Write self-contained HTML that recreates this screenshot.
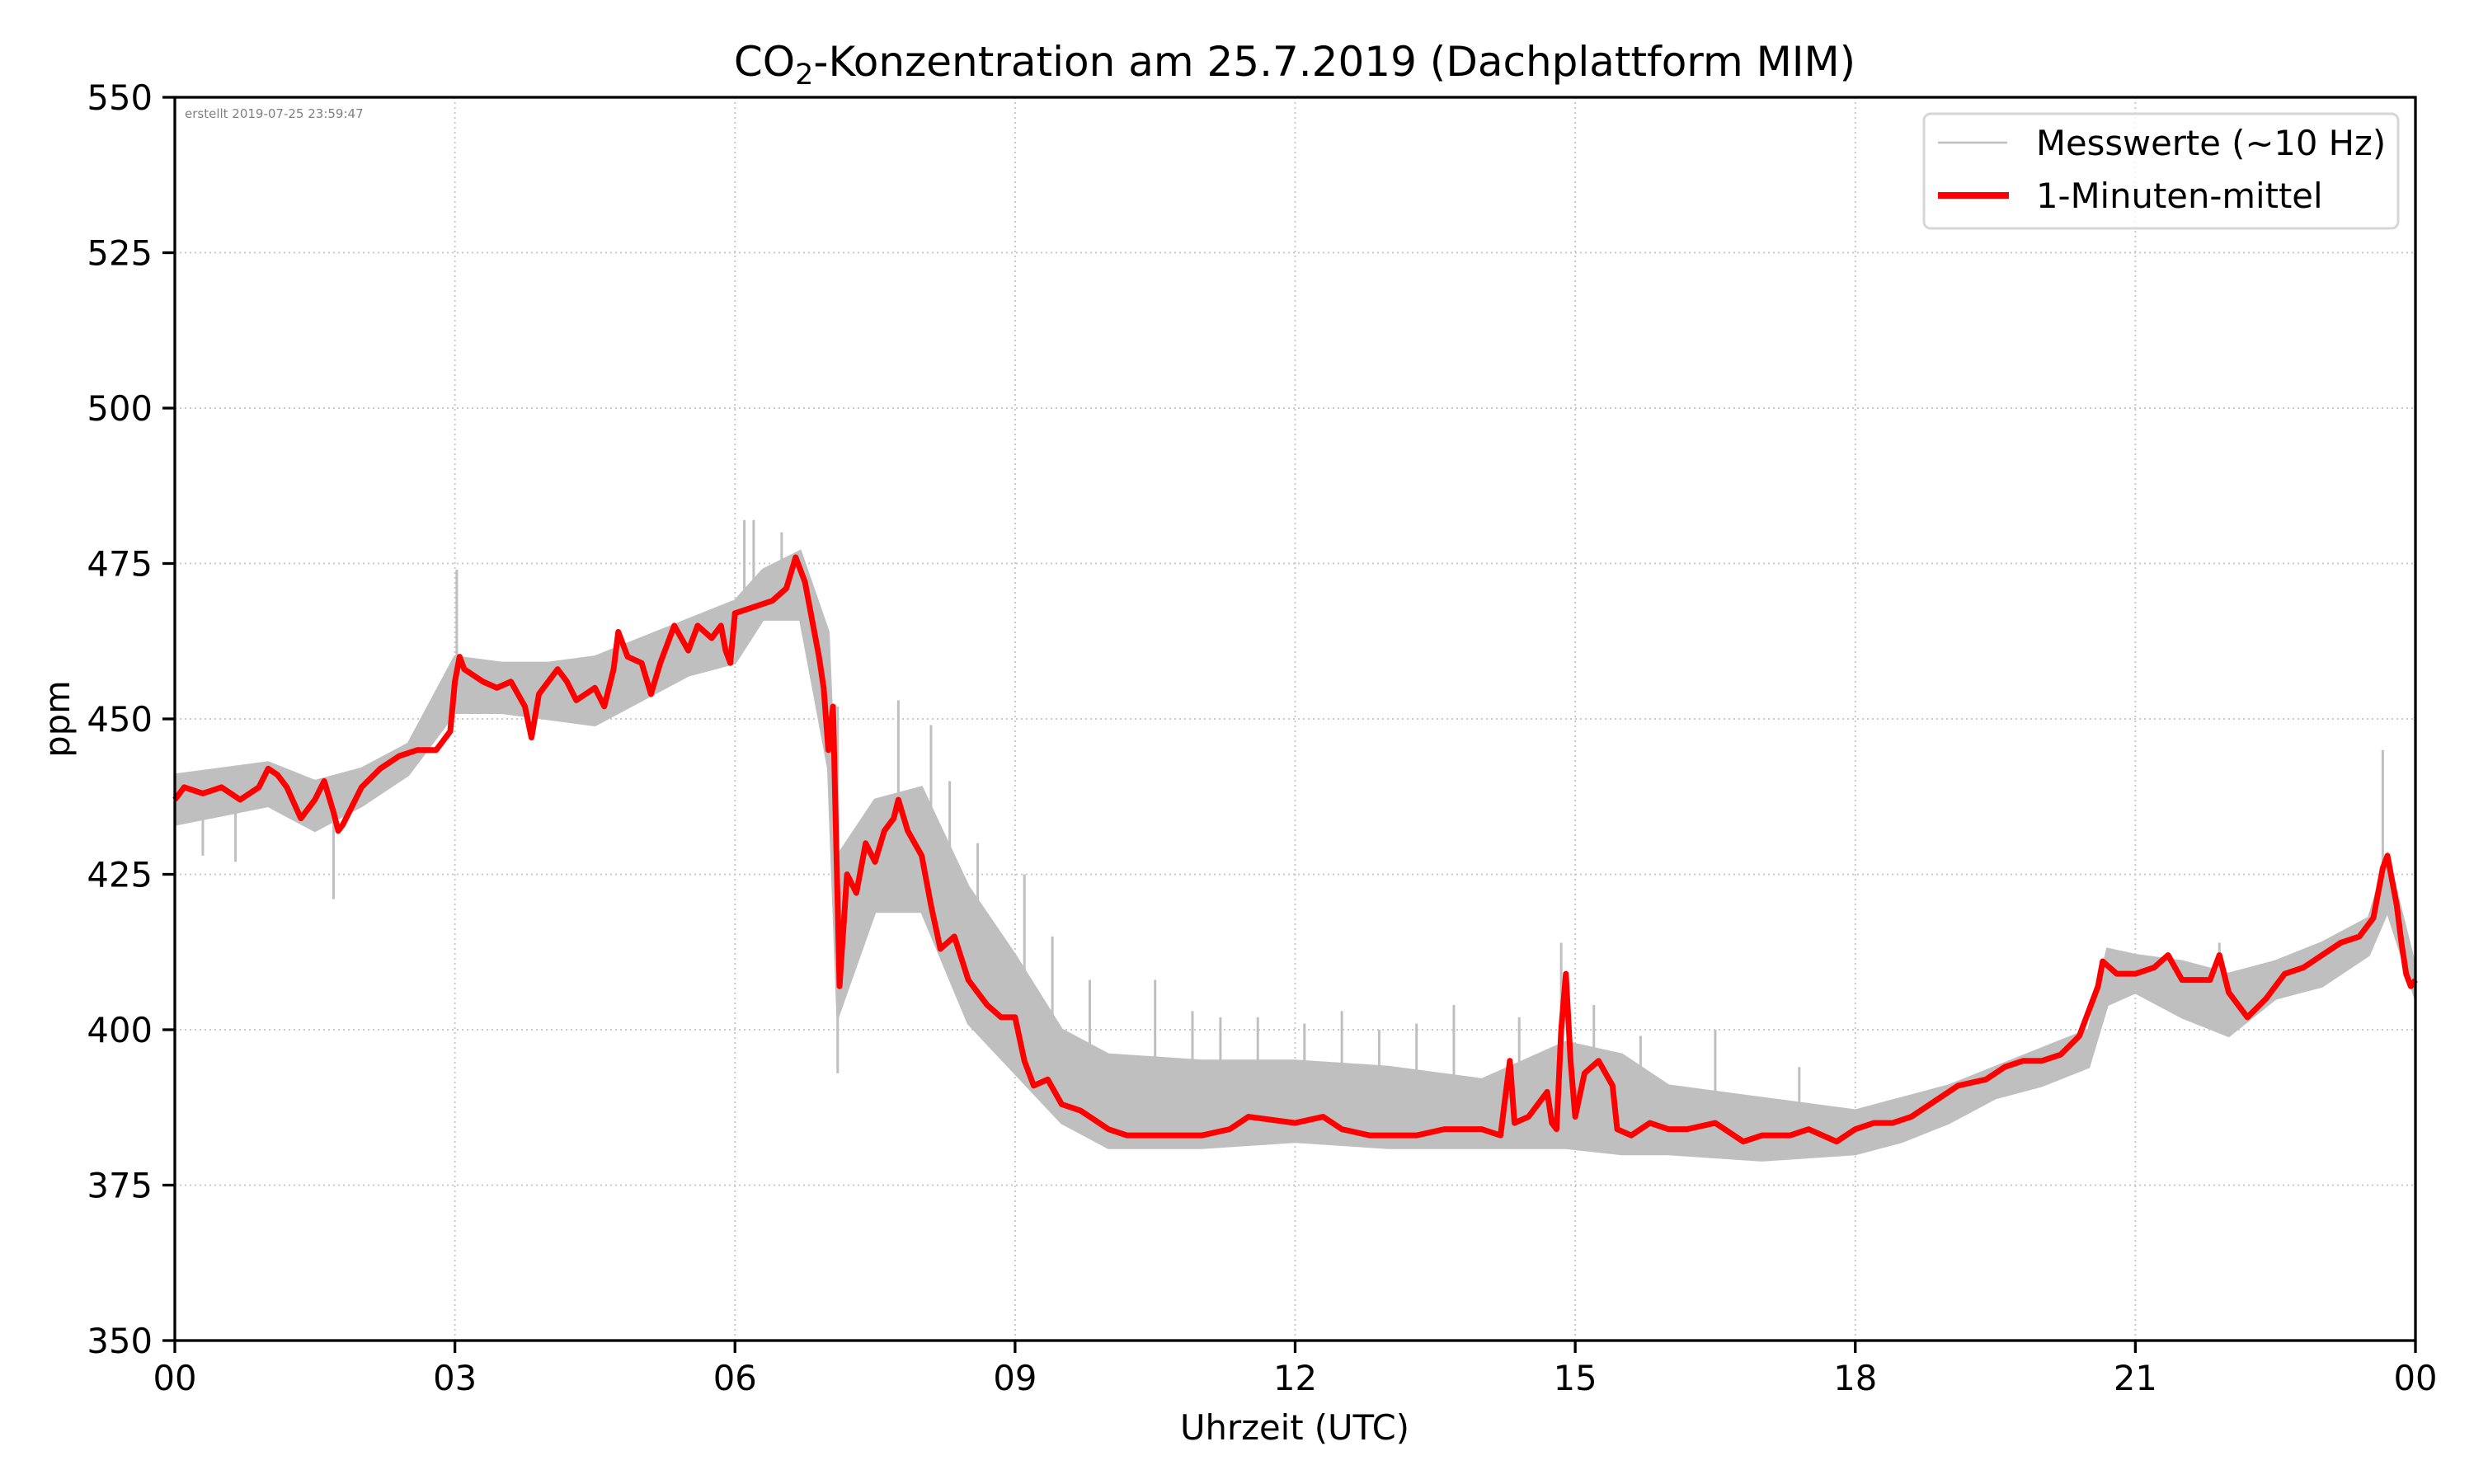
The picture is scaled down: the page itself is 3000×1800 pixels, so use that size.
<!DOCTYPE html>
<html><head><meta charset="utf-8"><style>
html,body{margin:0;padding:0;background:#fff}
svg{display:block;font-family:"DejaVu Sans","Liberation Sans",sans-serif}
</style></head><body>
<svg id="chart" width="3000" height="1800" viewBox="0 0 3000 1800">
<rect width="3000" height="1800" fill="#fff"/>
<text x="1570" y="92" font-size="50" text-anchor="middle">CO<tspan font-size="35" dy="10">2</tspan><tspan dy="-10">-Konzentration am 25.7.2019 (Dachplattform MIM)</tspan></text>
<g id="grid"></g>
<g id="band"></g>
<g id="mean"></g>
<g id="axes"></g>
<text x="224" y="143" font-size="15" fill="#808080">erstellt 2019-07-25 23:59:47</text>
<text x="1570" y="1746" font-size="41.7" text-anchor="middle">Uhrzeit (UTC)</text>
<text x="0" y="0" font-size="41.7" text-anchor="middle" transform="translate(84,872) rotate(-90)">ppm</text>
<g>
<rect x="2333" y="138" width="575" height="139" rx="8" fill="#fff" fill-opacity="0.8" stroke="#d6d6d6" stroke-width="3"/>
<line x1="2350" x2="2434" y1="173" y2="173" stroke="#bfbfbf" stroke-width="2.5"/>
<text x="2469" y="188" font-size="41.7">Messwerte (~10 Hz)</text>
<line x1="2350" x2="2436" y1="237" y2="237" stroke="#ff0000" stroke-width="8"/>
<text x="2469" y="252" font-size="41.7">1-Minuten-mittel</text>
</g>
</svg>
<script>
const meanHours=[0,0.1,0.3,0.5,0.7,0.9,1.0,1.1,1.2,1.35,1.5,1.6,1.7,1.75,1.8,1.9,2.0,2.2,2.4,2.6,2.8,2.95,3.0,3.05,3.1,3.3,3.45,3.6,3.75,3.82,3.9,4.1,4.2,4.3,4.5,4.6,4.7,4.75,4.85,5.0,5.1,5.2,5.35,5.5,5.6,5.75,5.85,5.9,5.95,6.0,6.2,6.4,6.55,6.65,6.75,6.8,6.9,6.95,7.0,7.05,7.1,7.12,7.2,7.3,7.4,7.5,7.6,7.7,7.75,7.85,8.0,8.1,8.2,8.35,8.5,8.7,8.85,9.0,9.1,9.2,9.35,9.5,9.7,9.9,10.0,10.2,10.5,11.0,11.3,11.5,12.0,12.3,12.5,12.8,13.0,13.3,13.6,14.0,14.2,14.3,14.35,14.5,14.7,14.75,14.8,14.85,14.9,14.95,15.0,15.1,15.25,15.4,15.45,15.6,15.8,16.0,16.2,16.5,16.8,17.0,17.3,17.5,17.8,18.0,18.2,18.4,18.6,18.9,19.1,19.4,19.6,19.8,20.0,20.2,20.4,20.6,20.65,20.8,21.0,21.2,21.35,21.5,21.8,21.9,22.0,22.1,22.2,22.4,22.6,22.8,23.0,23.2,23.4,23.55,23.65,23.7,23.8,23.85,23.9,23.95,24.0];
const meanPpm=[437,439,438,439,437,439,442,441,439,434,437,440,435,432,433,436,439,442,444,445,445,448,456,460,458,456,455,456,452,447,454,458,456,453,455,452,458,464,460,459,454,459,465,461,465,463,465,461,459,467,468,469,471,476,472,468,460,455,445,452,420,407,425,422,430,427,432,434,437,432,428,420,413,415,408,404,402,402,395,391,392,388,387,385,384,383,383,383,384,386,385,386,384,383,383,383,384,384,383,395,385,386,390,385,384,400,409,395,386,393,395,391,384,383,385,384,384,385,382,383,383,384,382,384,385,385,386,389,391,392,394,395,395,396,399,407,411,409,409,410,412,408,408,412,406,404,402,405,409,410,412,414,415,418,426,428,420,414,409,407,408];
const bandHours=[0,1,1.5,2,2.5,3,3.5,4,4.5,5,5.5,6,6.3,6.7,7.0,7.1,7.5,8.0,8.5,9.0,9.5,10,11,12,13,14,14.9,15.5,16,17,18,18.5,19,19.5,20,20.5,20.7,21,21.5,22,22.5,23,23.5,23.7,24];
const bandLow=[433,436,432,436,441,451,451,450,449,453,457,459,466,466,442,402,419,419,401,393,385,381,381,382,381,381,381,380,380,379,380,382,385,389,391,394,404,406,402,399,405,407,412,419,405];
const bandHigh=[441,443,440,442,446,460,459,459,460,463,466,469,474,477,464,428,437,439,423,412,400,396,395,395,394,392,398,396,391,389,387,389,391,394,397,400,413,412,411,409,411,414,418,428,410];
const spikeHours=[0.3,0.65,1.7,2.7,3.02,6.1,6.2,6.5,7.1,7.75,8.1,8.3,8.6,9.1,9.4,9.8,10.5,10.9,11.2,11.6,12.1,12.5,12.9,13.3,13.7,14.4,14.85,15.2,15.7,16.5,17.4,20.6,21.9,23.65];
const spikePpm=[428,427,421,449,474,482,482,480,393,453,449,440,430,425,415,408,408,403,402,402,401,403,400,401,404,402,414,404,399,400,394,408,414,445];
const xTickHours=[0,3,6,9,12,15,18,21,24];
const xTickLabels=["00","03","06","09","12","15","18","21","00"];
const yTicks=[350,375,400,425,450,475,500,525,550];

const L=212,R=2929,T=118,B=1626;
const X=h=>L+(R-L)*h/24;
const Y=v=>B-(B-T)*(v-350)/200;
const NS="http://www.w3.org/2000/svg";
function mk(tag,parent,attrs){const e=document.createElementNS(NS,tag);for(const k in attrs)e.setAttribute(k,attrs[k]);parent.appendChild(e);return e;}
const grid=document.getElementById('grid'),band=document.getElementById('band'),mean=document.getElementById('mean'),axes=document.getElementById('axes');

xTickHours.forEach((h,i)=>{
  if(i>0&&i<xTickHours.length-1){
    const g=mk('line',grid,{x1:X(h),x2:X(h),y1:T,y2:B,stroke:'#c8c8c8','stroke-width':2,'stroke-dasharray':'2 4'});
    
    
  }
  const t=mk('line',axes,{x1:X(h),x2:X(h),y1:B,y2:B+15,stroke:'#000','stroke-width':3.3});
  
  
  const lb=mk('text',axes,{x:X(h),y:B+60,'font-size':41.7,'text-anchor':'middle'});
  lb.textContent=xTickLabels[i];
  
  
});
yTicks.forEach(v=>{
  if(v>350&&v<550){
    const g=mk('line',grid,{x1:L,x2:R,y1:Y(v),y2:Y(v),stroke:'#c8c8c8','stroke-width':2,'stroke-dasharray':'2 4'});
    
    
  }
  const t=mk('line',axes,{x1:L-15,x2:L,y1:Y(v),y2:Y(v),stroke:'#000','stroke-width':3.3});
  
  
  const lb=mk('text',axes,{x:L-27,y:Y(v)+15,'font-size':41.7,'text-anchor':'end'});
  lb.textContent=String(v);
  
  
});
const sp=mk('rect',axes,{x:L,y:T,width:R-L,height:B-T,fill:'none',stroke:'#000','stroke-width':3.3});



let pts=bandHours.map((h,i)=>X(h)+','+Y(bandHigh[i]));
for(let i=bandHours.length-1;i>=0;i--)pts.push(X(bandHours[i])+','+Y(bandLow[i]));
const poly=mk('polygon',band,{points:pts.join(' '),fill:'#bfbfbf',stroke:'#bfbfbf','stroke-width':3});


spikeHours.forEach((h,i)=>{
  let j=0;while(j<meanHours.length-1&&meanHours[j+1]<h)j++;
  const base=meanPpm[j];
  const s=mk('line',band,{x1:X(h),x2:X(h),y1:Y(base),y2:Y(spikePpm[i]),stroke:'#bfbfbf','stroke-width':3});
  
  
});
const mp=mk('polyline',mean,{points:meanHours.map((h,i)=>X(h)+','+Y(meanPpm[i])).join(' '),fill:'none',stroke:'#ff0000','stroke-width':7,'stroke-linejoin':'round'});


</script>
</body></html>
